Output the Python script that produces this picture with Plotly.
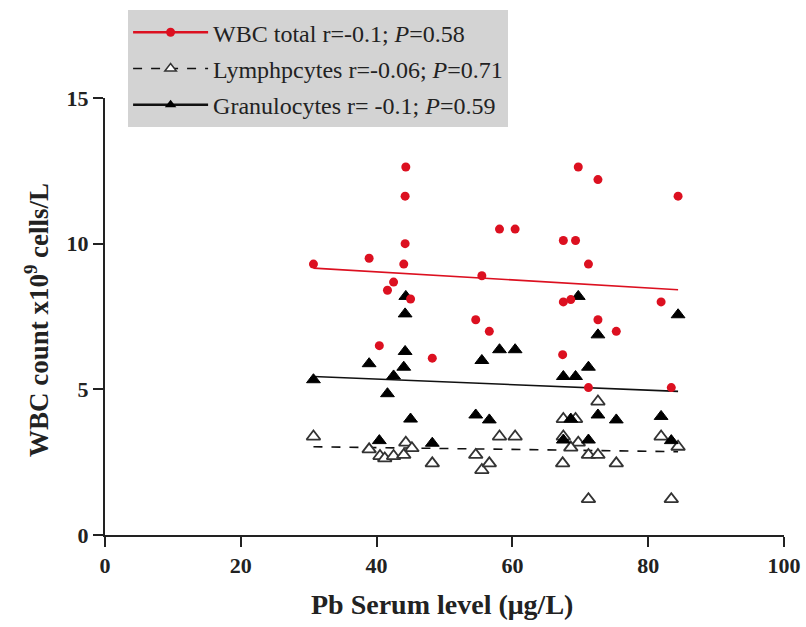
import plotly.graph_objects as go

# ---- data ----
wbc_x = [44.3, 44.2, 58.1, 60.4, 44.2, 38.9, 30.7, 44.0, 55.5, 42.5, 41.6, 45.0, 54.6, 56.6, 40.4, 48.2,
         69.7, 72.6, 84.4, 67.5, 69.3, 71.2, 67.5, 68.6, 81.9, 72.6, 75.3, 67.4, 71.2, 83.4]
wbc_y = [12.63, 11.63, 10.5, 10.5, 10.0, 9.5, 9.3, 9.3, 8.9, 8.68, 8.4, 8.1, 7.39, 6.99, 6.5, 6.07,
         12.63, 12.2, 11.63, 10.11, 10.11, 9.3, 8.0, 8.08, 8.0, 7.39, 6.99, 6.19, 5.06, 5.06]

gran_x = [44.3, 44.2, 58.1, 60.4, 44.2, 38.9, 55.5, 44.0, 42.5, 30.7, 41.6, 45.0, 54.6, 56.6, 40.4, 48.2,
          69.7, 84.4, 72.6, 71.2, 67.5, 69.3, 72.6, 75.3, 81.9, 68.6, 67.5, 71.2, 83.4]
gran_y = [8.19, 7.59, 6.36, 6.36, 6.3, 5.88, 5.99, 5.76, 5.46, 5.33, 4.85, 3.98, 4.12, 3.95, 3.24, 3.15,
          8.19, 7.56, 6.87, 5.76, 5.44, 5.44, 4.12, 3.95, 4.07, 3.98, 3.26, 3.26, 3.24]

lymph_x = [30.7, 38.9, 40.5, 41.2, 42.5, 44.0, 44.3, 45.2, 48.2, 54.6, 55.5, 56.6, 58.1, 60.4,
           72.6, 67.5, 69.3, 67.5, 69.7, 68.6, 81.9, 84.4, 71.2, 72.6, 67.4, 75.3, 71.2, 83.4]
lymph_y = [3.38, 2.94, 2.71, 2.63, 2.71, 2.75, 3.17, 2.98, 2.46, 2.75, 2.23, 2.46, 3.38, 3.38,
           4.58, 3.98, 3.98, 3.38, 3.17, 3.0, 3.38, 3.03, 2.75, 2.75, 2.46, 2.46, 1.23, 1.23]

fit_x = [30.7, 84.4]
wbc_fit = [9.16, 8.42]
gran_fit = [5.44, 4.93]
lymph_fit = [3.03, 2.86]

legend_names = [
    "WBC total r=-0.1; <i>P</i>=0.58",
    "Lymphpcytes r=-0.06; <i>P</i>=0.71",
    "Granulocytes r= -0.1; <i>P</i>=0.59",
]

x_title = "<b>Pb Serum level (μg/L)</b>"
y_title = "<b>WBC count x10<sup>9</sup> cells/L</b>"

x_ticks = [0, 20, 40, 60, 80, 100]
y_ticks = [0, 5, 10, 15]

RED = "#dc1020"
FONT = "Liberation Serif"

fig = go.Figure()

# regression lines
fig.add_trace(go.Scatter(x=fit_x, y=wbc_fit, mode="lines", line=dict(color=RED, width=1.6), showlegend=False))
fig.add_trace(go.Scatter(x=fit_x, y=gran_fit, mode="lines", line=dict(color="#111", width=1.6), showlegend=False))
fig.add_trace(go.Scatter(x=fit_x, y=lymph_fit, mode="lines", line=dict(color="#111", width=1.6, dash="dash"), showlegend=False))

# points
fig.add_trace(go.Scatter(x=lymph_x, y=lymph_y, mode="markers", showlegend=False,
                         marker=dict(symbol="triangle-up", size=12, color="white",
                                     line=dict(color="#333", width=1.8))))
fig.add_trace(go.Scatter(x=gran_x, y=gran_y, mode="markers", showlegend=False,
                         marker=dict(symbol="triangle-up", size=12, color="black",
                                     line=dict(color="black", width=1))))
fig.add_trace(go.Scatter(x=wbc_x, y=wbc_y, mode="markers", showlegend=False,
                         marker=dict(symbol="circle", size=9, color=RED)))

# legend entries
fig.add_trace(go.Scatter(x=[None], y=[None], mode="lines+markers", name=legend_names[0], legendgroup="a",
                         line=dict(color=RED, width=2.5), marker=dict(symbol="circle", size=9, color=RED)))
fig.add_trace(go.Scatter(x=[None], y=[None], mode="lines+markers", name=legend_names[1], legendgroup="b",
                         line=dict(color="#111", width=1.6, dash="dash"),
                         marker=dict(symbol="triangle-up", size=10, color="white", line=dict(color="#333", width=1.5))))
fig.add_trace(go.Scatter(x=[None], y=[None], mode="lines+markers", name=legend_names[2], legendgroup="c",
                         line=dict(color="#111", width=2.5),
                         marker=dict(symbol="triangle-up", size=10, color="black")))

axis_common = dict(showgrid=False, zeroline=False, showline=True, linecolor="#222", linewidth=2,
                   ticks="outside", ticklen=10, tickwidth=2, tickcolor="#222",
                   tickfont=dict(family=FONT, size=22, color="#222", weight=700))

fig.update_layout(
    width=806, height=627,
    margin=dict(l=105, r=22, t=98, b=92, autoexpand=False),
    paper_bgcolor="white", plot_bgcolor="white",
    font=dict(family=FONT, color="#222"),
    xaxis=dict(range=[0, 100], tickvals=x_ticks, ticktext=[f"<b>{v}</b>" for v in x_ticks], **axis_common),
    yaxis=dict(range=[0, 15], tickvals=y_ticks, ticktext=[f"<b>{v}</b>" for v in y_ticks], **axis_common),
    legend=dict(x=0.034, y=1.201, xanchor="left", yanchor="top", bgcolor="#d3d3d3",
                font=dict(family=FONT, size=24, color="#222"), itemwidth=75, tracegroupgap=2,
                traceorder="grouped"),
    showlegend=True,
    annotations=[
        dict(text=x_title, xref="paper", yref="paper", x=0.496, y=-0.160, xanchor="center", yanchor="middle",
             showarrow=False, font=dict(family=FONT, size=28, color="#222")),
        dict(text=y_title, xref="paper", yref="paper", x=-0.100, y=0.492, xanchor="center", yanchor="middle",
             textangle=-90, showarrow=False, font=dict(family=FONT, size=27, color="#222")),
    ],
)

fig.write_html("out.html")
